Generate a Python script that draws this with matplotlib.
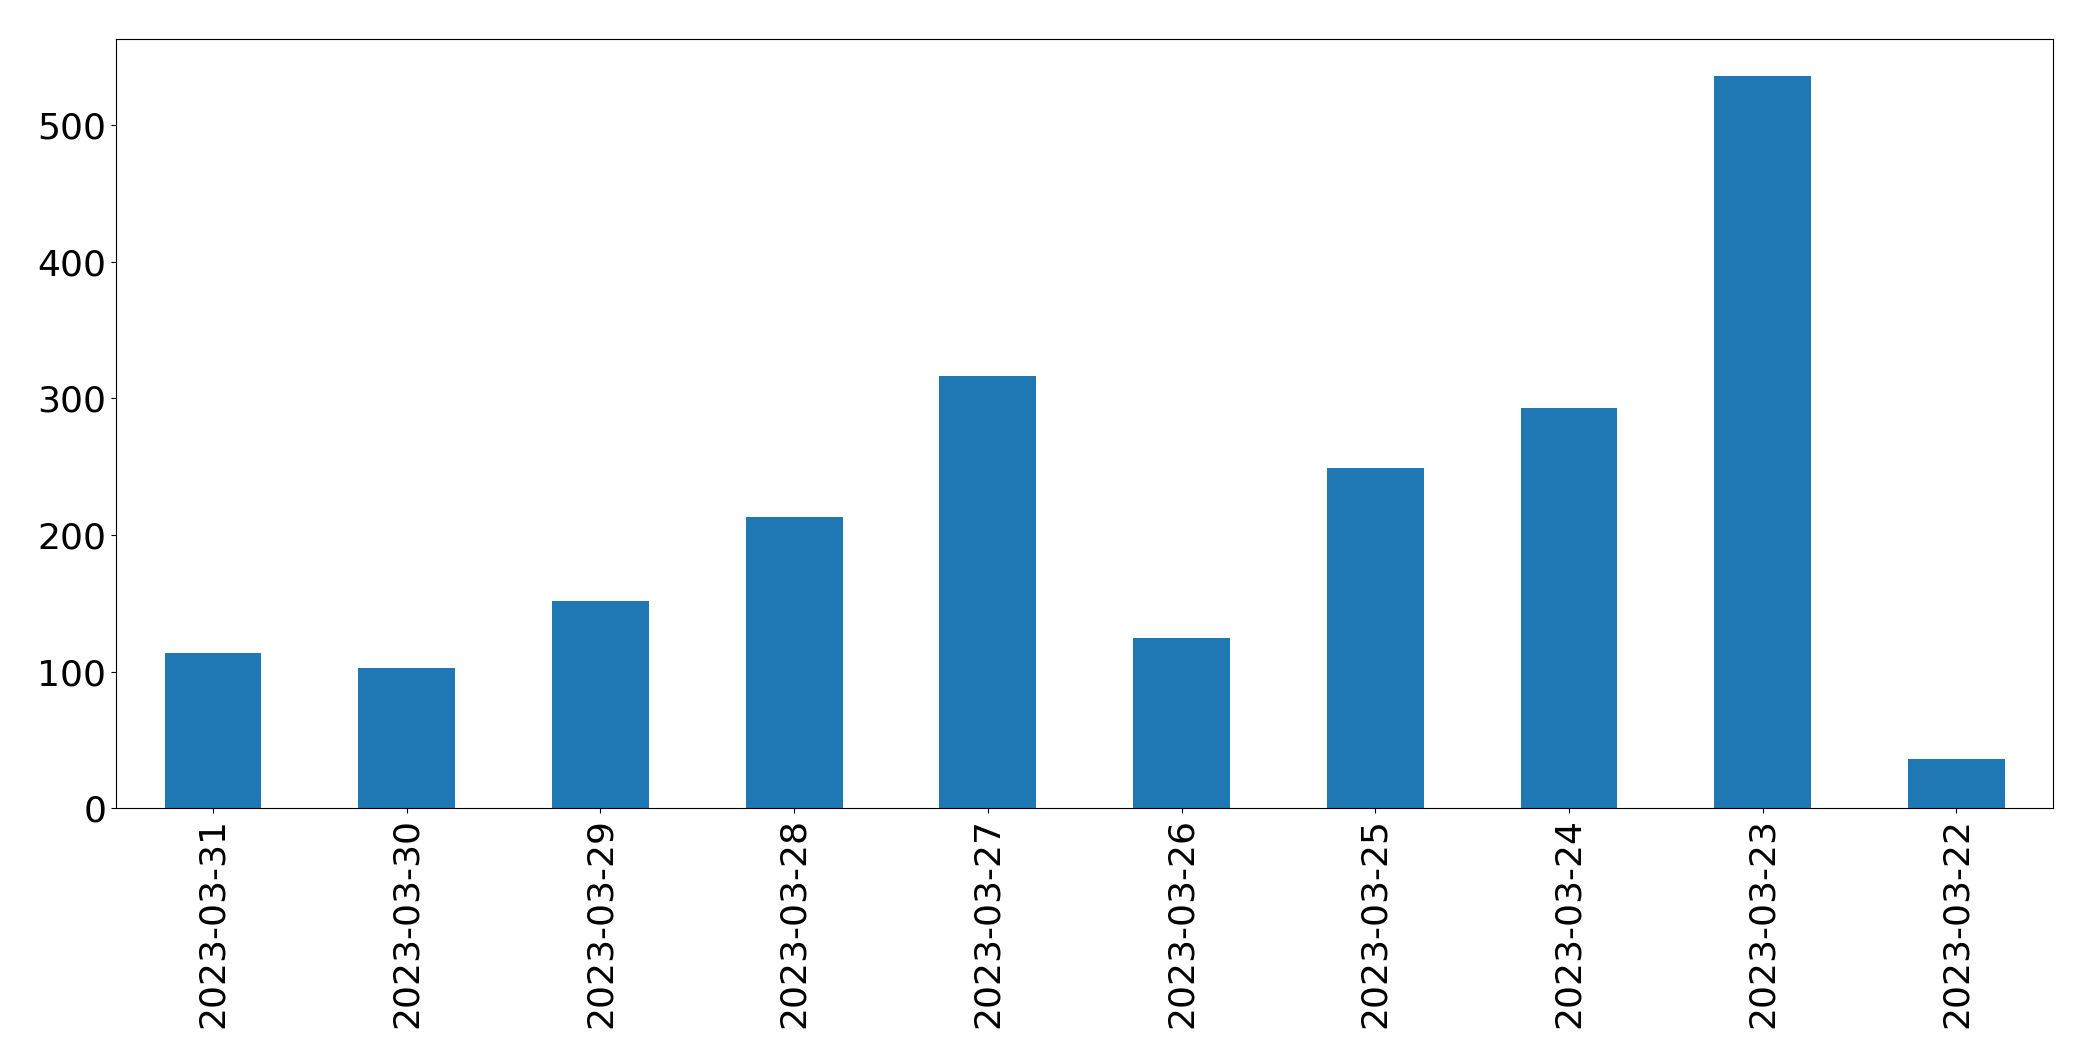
import matplotlib
matplotlib.use("Agg")
import matplotlib.pyplot as plt

dates = ["2023-03-31","2023-03-30","2023-03-29","2023-03-28","2023-03-27",
         "2023-03-26","2023-03-25","2023-03-24","2023-03-23","2023-03-22"]
counts = [114, 103, 152, 213, 316, 125, 249, 293, 536, 36]

fig = plt.figure(figsize=(20.93, 10.61), dpi=100)
ax = fig.add_axes([0.0555, 0.238, 0.9255, 0.7255])
x = range(len(dates))
ax.bar(x, counts, width=0.5, color="#1f77b4")
ax.set_xlim(-0.5, len(dates) - 0.5)
ax.set_ylim(0, 563)
ax.set_xticks(list(x))
ax.set_xticklabels(dates, rotation=90)
ax.set_yticks([0, 100, 200, 300, 400, 500])
ax.tick_params(labelsize=26)
fig.savefig("out.png", dpi=100)
